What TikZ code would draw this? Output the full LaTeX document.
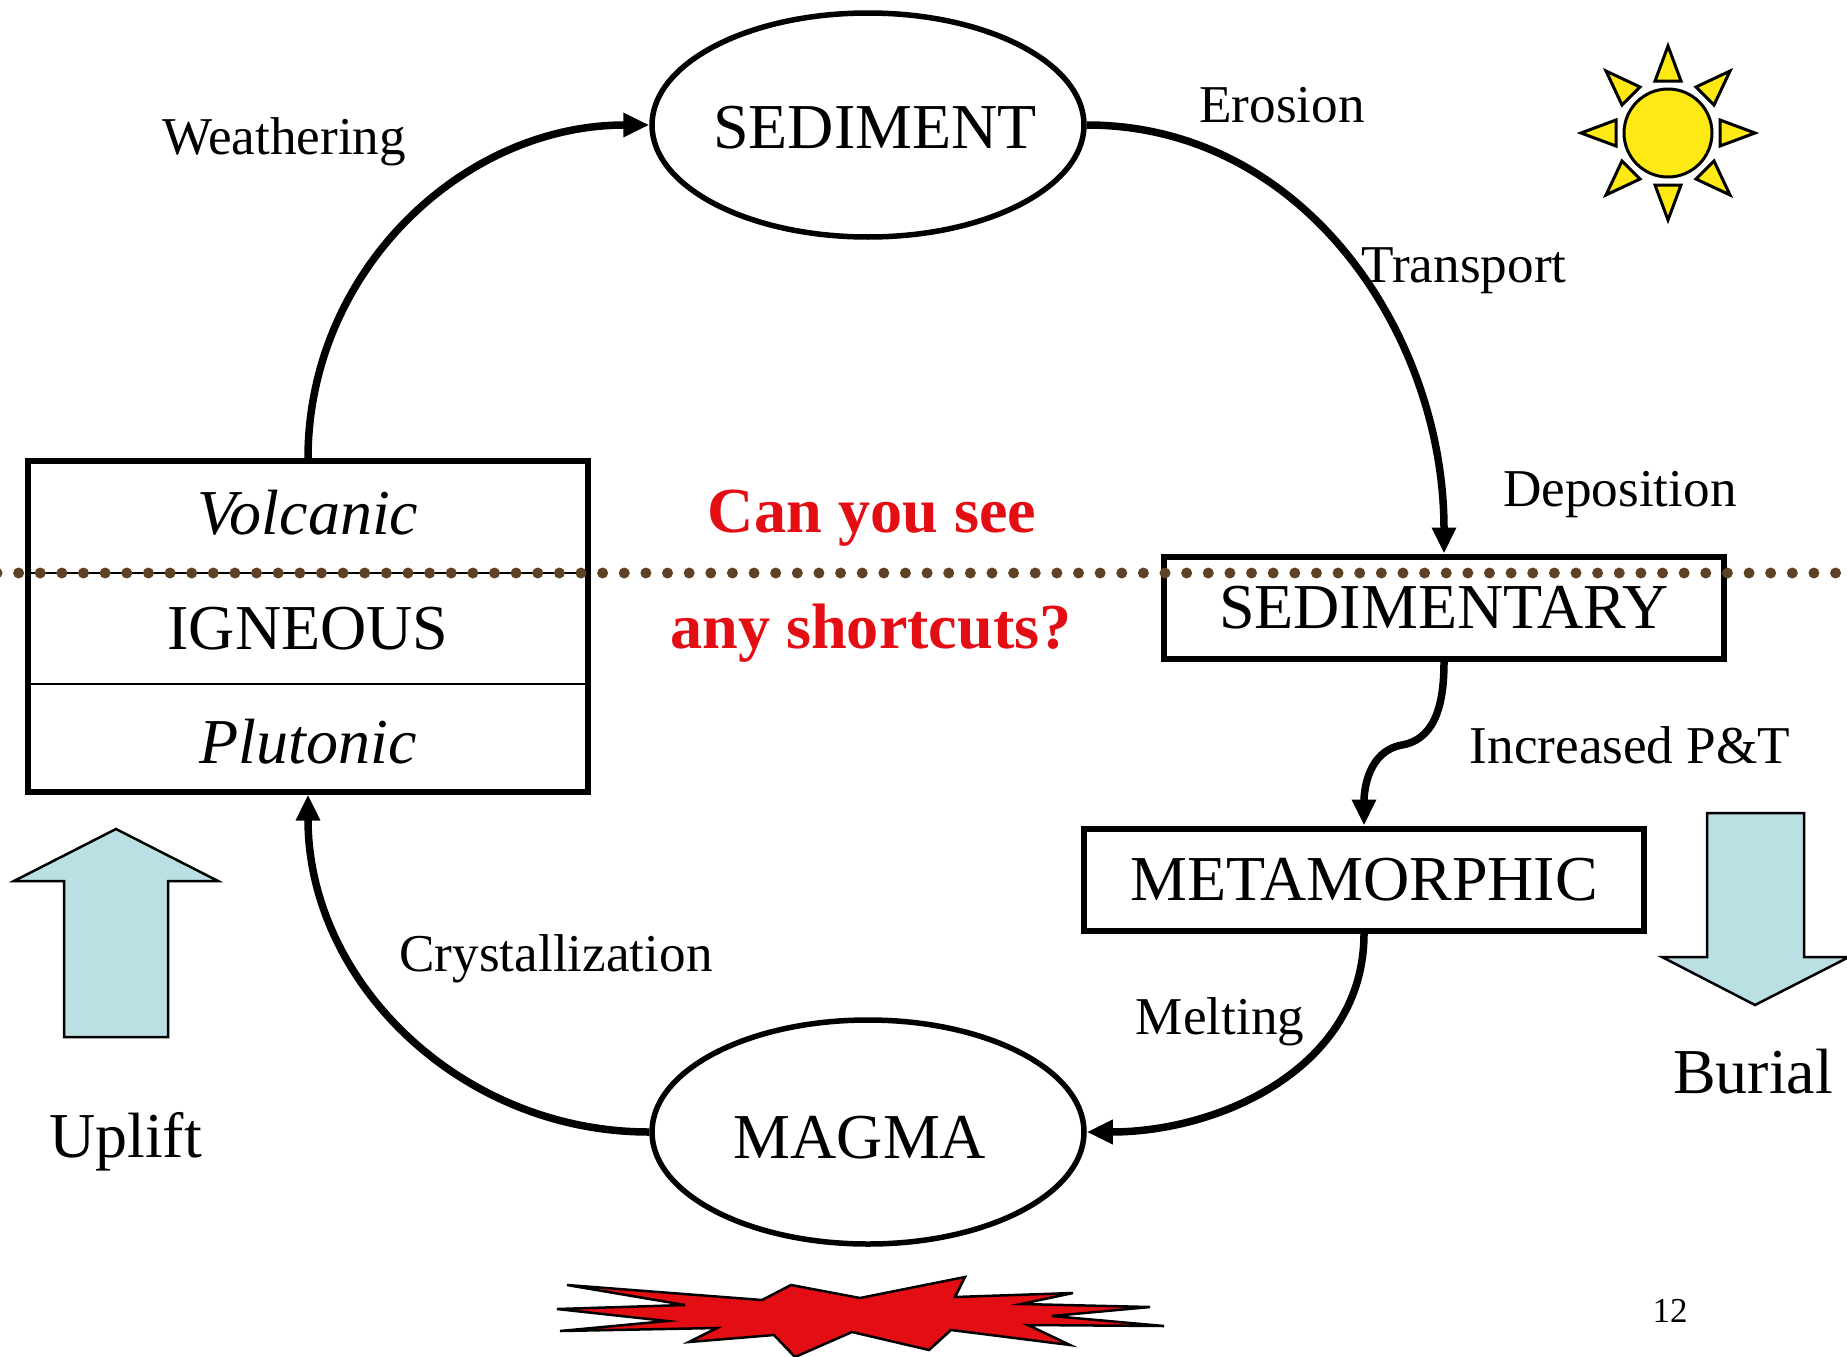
\documentclass[tikz,border=0pt]{standalone}
\usepackage{fontspec}
\setmainfont{Liberation Serif}
\usetikzlibrary{arrows.meta}
\usetikzlibrary{positioning}
\usetikzlibrary{fit}
\usetikzlibrary{shapes.geometric}
\definecolor{upliftblue}{HTML}{BBE0E3}
\definecolor{starred}{HTML}{E30E13}
\definecolor{sunyellow}{HTML}{FFE914}
\definecolor{dotbrown}{HTML}{5F4126}
\begin{document}
\begin{tikzpicture}[x=1pt,y=-1pt,>={Triangle[length=26pt,width=23pt]}]
	\tikzset{bigtext/.style = {font=\fontsize{64}{70}\selectfont},
		smalltext/.style = {font=\fontsize{53.2}{60}\selectfont},
		redtext/.style = {text=starred, font=\fontsize{64.2}{70}\selectfont\bfseries},
		state/.style = {shape=ellipse, draw, line width=5.5pt, inner sep=0pt, minimum width=432pt, minimum height=224pt, bigtext},
		rock/.style = {shape=rectangle, draw, line width=6pt, inner sep=0pt, minimum width=559.5pt, minimum height=102pt, bigtext},
		cell/.style = {shape=rectangle, inner sep=0pt, minimum width=560pt, minimum height=111pt, bigtext},
		flow/.style = {->, line width=7.5pt},
		bigarrow/.style = {draw, line width=2.5pt, fill=upliftblue},
		ray/.style = {draw, line width=3pt, fill=sunyellow}}
	\useasboundingbox (0,0) rectangle (1847,1357);

	\node[state] (SEDIMENT) at (868,125) {\makebox[0pt]{\hspace*{14pt}\raisebox{0pt}[47pt][1pt]{SEDIMENT}}};
	\node[state] (MAGMA) at (868,1132) {\makebox[0pt]{\raisebox{0pt}[54pt][1pt]{MAGMA}\hspace*{16pt}}};
	\node[rock] (SEDIMENTARY) at (1444,607.5) {SEDIMENTARY};
	\node[rock] (METAMORPHIC) at (1364,879.5) {METAMORPHIC};

	\node[cell, draw, line width=2.5pt] (IGNEOUS) at (308,628.5) {IGNEOUS};
	\node[cell, above=0pt of IGNEOUS, minimum height=110pt] (VOLCANIC) {\raisebox{0pt}[37pt][1pt]{\itshape Volcanic}};
	\node[cell, below=0pt of IGNEOUS, minimum height=106pt] (PLUTONIC) {\raisebox{0pt}[51pt][1pt]{\itshape Plutonic}};
	\node[fit=(VOLCANIC)(PLUTONIC), draw, line width=6pt, inner sep=0pt] (ROCKBOX) {};

	% the cycle
	\coordinate (kink) at (1402,745);
	\draw[flow] (ROCKBOX.north) to[out=90,in=180] (SEDIMENT.west);
	\draw[flow] (SEDIMENT.east) to[out=0,in=90] (SEDIMENTARY.north);
	\draw[flow] (SEDIMENTARY.south) to[out=-90,in=10] (kink) to[out=190,in=90] (METAMORPHIC.north);
	\draw[flow] (METAMORPHIC.south) to[out=-90,in=0] (MAGMA.east);
	\draw[flow] (MAGMA.west) to[out=180,in=-90] (ROCKBOX.south);

	% water level
	\draw[dotbrown, line width=11pt, line cap=round, dash pattern=on 0pt off 21.63pt] (-3,573) -- (1847,573);

	\node[smalltext] (weathering) at (284,142) {Weathering};
	\node[smalltext] (erosion) at (1282,105) {Erosion};
	\node[smalltext] (transport) at (1464,271) {Transport};
	\node[smalltext] (deposition) at (1620,495) {Deposition};
	\node[smalltext] (pt) at (1630,745) {Increased P\&T};
	\node[smalltext] (melting) at (1220,1022) {Melting};
	\node[smalltext] (crystal) at (556,959) {Crystallization};
	\node[redtext] (see) at (872,518) {Can you see};
	\node[redtext] (shortcuts) at (871,633) {any shortcuts?};
	\node[bigtext] (uplift) at (125.5,1142) {Uplift};
	\node[bigtext] (burial) at (1753,1072) {Burial};
	\node[font=\fontsize{35}{40}\selectfont] (page) at (1670,1311) {12};

	% big arrows
	\draw[bigarrow] (116,829) -- (218,881) -- (168,881) -- (168,1037) -- (64,1037) -- (64,881) -- (14,881) -- cycle;
	\draw[bigarrow] (1755,1005) -- (1849,957) -- (1804,957) -- (1804,813) -- (1707,813) -- (1707,957) -- (1662,957) -- cycle;

	% sun
	\draw[ray] (1668,133) circle (44);
	\draw[ray] (1668,46) -- (1681,81) -- (1655,81) -- cycle;
	\draw[ray] (1755,133) -- (1720,146) -- (1720,120) -- cycle;
	\draw[ray] (1581,133) -- (1616,146) -- (1616,120) -- cycle;
	\draw[ray] (1668,220) -- (1681,185) -- (1655,185) -- cycle;
	\draw[ray] (1730,71) -- (1696,87) -- (1714,105) -- cycle;
	\draw[ray] (1606,71) -- (1640,87) -- (1622,105) -- cycle;
	\draw[ray] (1730,195) -- (1696,179) -- (1714,161) -- cycle;
	\draw[ray] (1606,195) -- (1640,179) -- (1622,161) -- cycle;

	% fire
	\draw[fill=starred, line width=2.5pt] (567,1285) -- (762,1300) -- (791,1285) -- (860,1298) -- (965,1277) -- (955,1297) -- (1073,1293) -- (1021,1304) -- (1150,1307) -- (1052,1316) -- (1164,1326) -- (1028,1325) -- (1070,1345) -- (951,1330) -- (929,1350) -- (852,1332) -- (795,1357) -- (774,1335) -- (689,1342) -- (717,1328) -- (560,1331) -- (667,1321) -- (557,1309) -- (685,1305) -- cycle;
\end{tikzpicture}
\end{document}
